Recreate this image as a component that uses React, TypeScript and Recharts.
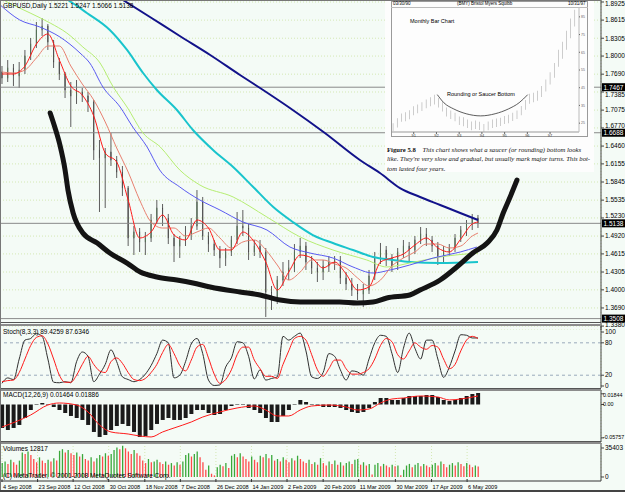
import React from "react";
import {
  ComposedChart,
  Bar,
  Line,
  XAxis,
  YAxis,
  CartesianGrid,
  ReferenceLine,
  Cell,
} from "recharts";

const FONT = '"Liberation Sans", Arial, sans-serif';
const SERIF = '"Liberation Serif", "DejaVu Serif", serif';
const BG = "#f4fbf6";
const GRID = "#d4e8b4";
const X_DOMAIN: [number, number] = [-0.35, 104.45];

// x axis labels (bar index where each label starts)
const dateTicks = [0, 6.2, 12.4, 18.6, 24.9, 31.1, 37.3, 43.5, 49.7, 56.0, 62.2, 68.6, 74.9, 81.1];
const dateLabels = [
  "4 Sep 2008", "23 Sep 2008", "12 Oct 2008", "30 Oct 2008", "18 Nov 2008", "7 Dec 2008",
  "26 Dec 2008", "14 Jan 2009", "2 Feb 2009", "20 Feb 2009", "11 Mar 2009", "30 Mar 2009",
  "17 Apr 2009", "6 May 2009",
];

const priceTicks = [
  1.8925, 1.8615, 1.8305, 1.8, 1.769, 1.7385, 1.7075, 1.677, 1.646, 1.6155, 1.5845, 1.5535,
  1.523, 1.492, 1.4615, 1.4305, 1.4, 1.369, 1.338,
];
// small shifts so axis labels clear the boxed price labels
const tickNudge: Record<string, number> = { "1.7385": 3, "1.6770": -2.5, "1.5230": -2.5, "1.3380": -1 };

// GBPUSD candles (two trading days per candle)
const open = [1.7727,1.7625,1.7796,1.7659,1.7761,1.8001,1.8206,1.8446,1.8514,1.8240,
1.7898,1.7693,1.7419,1.7317,1.7385,1.7317,1.7214,1.6393,1.6256,1.6358,
1.6222,1.6016,1.5743,1.4887,1.4990,1.4819,1.4887,1.5195,1.5400,1.5229,
1.4887,1.4750,1.4853,1.4955,1.5092,1.5503,1.4921,1.4784,1.4682,1.4545,
1.4648,1.4853,1.5092,1.5058,1.4648,1.4750,1.4648,1.3963,1.3826,1.4168,
1.4305,1.4374,1.4648,1.4750,1.4476,1.4374,1.4305,1.4408,1.4476,1.4511,
1.4203,1.4100,1.3997,1.3929,1.3997,1.4237,1.4545,1.4682,1.4545,1.4408,
1.4648,1.4750,1.4682,1.4853,1.4955,1.4853,1.4750,1.4579,1.4648,1.4716,
1.4887,1.5024,1.5127,1.5229];
const high = [1.7830,1.7932,1.7864,1.7898,1.8104,1.8309,1.8583,1.8651,1.8548,1.8275,
1.7967,1.7727,1.7556,1.7590,1.7453,1.7385,1.7248,1.6564,1.6427,1.6684,
1.6290,1.6119,1.5777,1.5092,1.5058,1.4990,1.5298,1.5537,1.5469,1.5298,
1.4955,1.4921,1.5092,1.5229,1.5708,1.5589,1.4990,1.4853,1.4750,1.4716,
1.4921,1.5332,1.5366,1.5127,1.4853,1.4853,1.4716,1.4066,1.4237,1.4476,
1.4511,1.4784,1.4887,1.4819,1.4579,1.4476,1.4511,1.4579,1.4579,1.4579,
1.4305,1.4203,1.4100,1.4100,1.4340,1.4648,1.4802,1.4750,1.4613,1.4716,
1.4853,1.4819,1.4921,1.5075,1.5058,1.4921,1.4819,1.4750,1.4784,1.4955,
1.5092,1.5195,1.5298,1.5281];
const low = [1.7522,1.7556,1.7488,1.7453,1.7693,1.7932,1.8138,1.8343,1.8104,1.7796,
1.7590,1.7282,1.6786,1.7180,1.7214,1.7043,1.6222,1.5332,1.5400,1.6119,
1.5914,1.5606,1.4750,1.4596,1.4648,1.4596,1.4819,1.5127,1.5092,1.4784,
1.4476,1.4545,1.4750,1.4853,1.5024,1.4853,1.4648,1.4579,1.4374,1.4408,
1.4579,1.4784,1.4921,1.4511,1.4579,1.4545,1.3535,1.3655,1.3758,1.4066,
1.4168,1.4305,1.4545,1.4340,1.4271,1.4134,1.4168,1.4305,1.4340,1.4100,
1.3997,1.3895,1.3826,1.3706,1.3929,1.4168,1.4442,1.4408,1.4305,1.4340,
1.4545,1.4476,1.4613,1.4784,1.4750,1.4648,1.4425,1.4476,1.4579,1.4648,
1.4819,1.4921,1.5024,1.5058];
const close = [1.7625,1.7796,1.7659,1.7761,1.8001,1.8206,1.8446,1.8514,1.8240,1.7898,
1.7693,1.7419,1.7317,1.7385,1.7317,1.7214,1.6393,1.6256,1.6358,1.6222,
1.6016,1.5743,1.4887,1.4990,1.4819,1.4887,1.5195,1.5400,1.5229,1.4887,
1.4750,1.4853,1.4955,1.5092,1.5503,1.4921,1.4784,1.4682,1.4545,1.4648,
1.4853,1.5092,1.5058,1.4648,1.4750,1.4648,1.3963,1.3826,1.4168,1.4305,
1.4374,1.4648,1.4750,1.4476,1.4374,1.4305,1.4408,1.4476,1.4511,1.4203,
1.4100,1.3997,1.3929,1.3997,1.4237,1.4545,1.4682,1.4545,1.4408,1.4648,
1.4750,1.4682,1.4853,1.4955,1.4853,1.4750,1.4579,1.4648,1.4716,1.4887,
1.5024,1.5127,1.5229,1.5138];

// moving averages, [bar index, price]
const maNavy = [[20.6,1.8990],[25.8,1.8668],[31.0,1.8343],[36.3,1.8018],[41.5,1.7676],[45.0,1.7453],
[50.2,1.7111],[56.3,1.6683],[62.4,1.6222],[65.9,1.5999],[69.4,1.5742],[72.9,1.5589],[76.4,1.5452],
[79.9,1.5315],[83.0,1.5195]];
const maCyan = [[10.8,1.9000],[11.5,1.8959],[14.8,1.8737],[18.8,1.8446],[21.8,1.8104],[24.6,1.7710],
[27.0,1.7419],[30.5,1.7077],[33.3,1.6735],[36.8,1.6393],[40.3,1.6102],[43.8,1.5760],[47.3,1.5417],
[50.7,1.5161],[54.2,1.4938],[57.7,1.4801],[61.2,1.4682],[64.7,1.4562],[68.2,1.4511],[71.1,1.4476],
[76.4,1.4459],[83.0,1.4476]];
const maLime = [[-0.3,1.8990],[0.9,1.8925],[4.9,1.8737],[8.4,1.8565],[11.3,1.8394],[14.1,1.8155],
[17.1,1.7881],[19.4,1.7470],[21.8,1.7128],[24.6,1.6683],[27.6,1.6444],[31.0,1.6050],[34.5,1.5794],
[40.3,1.5589],[46.2,1.5246],[52.0,1.4904],[57.7,1.4682],[63.6,1.4511],[67.1,1.4391],[71.1,1.4459],
[76.4,1.4562],[83.0,1.4630]];
const maBlue = [[-0.3,1.8873],[3.1,1.8617],[6.6,1.8497],[10.1,1.8326],[13.6,1.8052],[15.3,1.7881],
[17.6,1.7470],[20.6,1.7128],[22.8,1.6786],[25.3,1.6444],[27.5,1.6050],[31.0,1.5760],[34.5,1.5537],
[38.0,1.5366],[42.0,1.5161],[46.2,1.5024],[50.2,1.4733],[53.7,1.4630],[57.7,1.4545],[61.2,1.4391],
[64.7,1.4288],[67.7,1.4340],[71.1,1.4425],[75.2,1.4545],[79.9,1.4647],[82.8,1.4733]];
const maFast = [[0,1.7693],[2,1.7693],[4,1.7830],[6,1.8206],[8,1.8377],[10,1.7932],[12,1.7488],
[14,1.7334],[16,1.6974],[18,1.6341],[20,1.6187],[22,1.5537],[24,1.4887],[26,1.4990],[28,1.5281],
[30,1.4938],[32,1.4853],[34,1.5195],[36,1.5058],[38,1.4682],[40,1.4682],[42,1.4990],[44,1.4819],
[46,1.4476],[48,1.3997],[50,1.4305],[52,1.4596],[54,1.4545],[56,1.4374],[58,1.4476],[60,1.4271],
[62,1.3997],[64,1.4049],[66,1.4476],[68,1.4545],[70,1.4613],[72,1.4767],[74,1.4887],[76,1.4716],
[78,1.4648],[80,1.4870],[82,1.5127],[83,1.5161]];
const maSlow = [[0,1.7727],[2,1.7710],[4,1.7761],[6,1.7967],[8,1.8172],[10,1.8172],[12,1.7830],
[14,1.7522],[16,1.7248],[18,1.6872],[20,1.6427],[22,1.6016],[24,1.5537],[26,1.5161],[28,1.5058],
[30,1.5058],[32,1.4921],[34,1.4990],[36,1.5058],[38,1.4887],[40,1.4716],[42,1.4819],[44,1.4853],
[46,1.4682],[48,1.4425],[50,1.4168],[52,1.4305],[54,1.4511],[56,1.4511],[58,1.4442],[60,1.4374],
[62,1.4203],[64,1.4066],[66,1.4168],[68,1.4408],[70,1.4545],[72,1.4648],[74,1.4784],[76,1.4784],
[78,1.4716],[80,1.4750],[82,1.4921],[83,1.4972]];

// hand drawn saucer
const saucer = [[8.4,1.7026],[9.2,1.6786],[10.1,1.6478],[11.0,1.6050],[11.5,1.5708],[12.4,1.5315],
[14.1,1.4972],[16.6,1.4801],[18.8,1.4630],[21.8,1.4459],[24.1,1.4305],[27.0,1.4220],[30.5,1.4168],
[33.3,1.4117],[36.3,1.4049],[41.5,1.3963],[45.0,1.3912],[48.5,1.3826],[52.0,1.3792],[55.4,1.3792],
[58.9,1.3792],[61.9,1.3775],[64.7,1.3792],[67.1,1.3861],[71.1,1.3912],[72.9,1.3997],[76.4,1.4168],
[79.3,1.4391],[82.1,1.4630],[84.6,1.4801],[86.3,1.5024],[87.4,1.5315],[88.6,1.5589],[89.8,1.5879]];

const stochMain = [5,15,12,50,85,88,97,92,50,7,6,8,6,45,63,55,8,22,40,67,45,17,12,8,12,22,38,60,85,80,
15,20,45,78,88,60,11,1,2,35,52,82,80,55,13,30,11,14,17,92,85,92,98,65,17,14,25,60,55,30,
11,28,26,20,50,80,94,92,60,25,70,98,70,50,85,85,50,16,35,65,95,94,89,89];
const stochSignal = [8,10,11,25,50,75,90,93,78,50,20,7,7,20,40,55,40,28,25,45,52,42,25,12,10,14,25,40,62,77,
60,38,28,48,72,77,52,22,5,12,30,58,72,72,48,32,18,18,14,40,65,88,92,85,58,30,18,32,48,48,
32,22,22,25,32,50,75,88,82,58,50,65,80,72,68,75,72,50,32,40,65,85,92,88];

const macdMain = [-0.0405,-0.0440,-0.0405,-0.0353,-0.0233,-0.0095,-0.0009,0.0026,0.0009,-0.0043,
-0.0095,-0.0147,-0.0198,-0.0233,-0.0267,-0.0353,-0.0474,-0.0560,-0.0526,-0.0440,
-0.0371,-0.0336,-0.0371,-0.0474,-0.0560,-0.0543,-0.0440,-0.0336,-0.0267,-0.0233,
-0.0267,-0.0267,-0.0233,-0.0164,-0.0095,-0.0095,-0.0147,-0.0181,-0.0164,-0.0095,
-0.0026,0.0009,-0.0009,-0.0060,-0.0095,-0.0147,-0.0233,-0.0302,-0.0302,-0.0198,
-0.0095,0.0009,0.0078,0.0043,-0.0009,-0.0026,-0.0043,-0.0043,-0.0043,-0.0060,
-0.0095,-0.0129,-0.0147,-0.0129,-0.0060,0.0043,0.0112,0.0112,0.0078,0.0078,
0.0112,0.0147,0.0147,0.0147,0.0164,0.0164,0.0129,0.0078,0.0060,0.0078,
0.0112,0.0147,0.0181,0.0198];
const macdSignal = [[0,-0.0388],[5,-0.0181],[8,-0.0009],[10,0.0026],[13,-0.0009],[15,-0.0129],
[17,-0.0353],[19,-0.0474],[22,-0.0509],[24,-0.0543],[26,-0.0560],[28,-0.0474],[30,-0.0405],
[33,-0.0302],[35,-0.0216],[38,-0.0129],[41,-0.0060],[44,-0.0026],[46,-0.0095],[48,-0.0198],
[50,-0.0198],[52,-0.0095],[54,-0.0026],[57,-0.0009],[60,-0.0043],[62,-0.0095],[64,-0.0078],
[66,0.0026],[68,0.0095],[70,0.0112],[73,0.0147],[76,0.0129],[78,0.0078],[80,0.0095],[83,0.0147]];

// daily tick volumes
const volumes = [17000,19000,16000,21000,18000,15000,20000,30000,28000,31000,27000,
22000,18000,24000,20000,17000,21000,19000,23000,20000,32000,34000,30000,33000,29000,
27000,30000,25000,28000,22000,20000,24000,19000,23000,27000,25000,29000,26000,28000,
33000,36000,34000,38000,35000,31000,28000,33000,29000,26000,20000,17000,22000,18000,19000,
21000,18000,16000,19000,15000,17000,14000,18000,15000,19000,27000,29000,25000,28000,31000,24000,
18000,9000,14000,4000,2000,12000,15000,13000,17000,11000,26000,28000,24000,29000,25000,
22000,19000,25000,21000,18000,26000,24000,28000,23000,27000,20000,22000,19000,24000,21000,
18000,23000,20000,26000,22000,19000,17000,21000,16000,18000,15000,23000,17000,14000,19000,
16000,20000,15000,18000,14000,17000,19000,16000,21000,22000,15000,18000,14000,16000,3000,
15000,17000,13000,16000,14000,12000,15000,13000,14000,2000,9000,14000,16000,12000,15000,
17000,13000,16000,14000,12000,15000,17000,14000,19000,16000,12000,15000,17000,14000,18000,
16000,13000,17000,15000,12000,14000,12817];

// inset: BMY monthly bars
const bmyLow = [20.5,22.6,25.8,26.0,27.2,29.5,30.6,31.8,33.4,34.6,35.5,33.9,31.6,28.8,27.3,26.1,23.9,23.3,22.2,21.0,
21.7,21.1,20.2,21.0,22.3,22.8,23.4,24.5,25.0,26.2,27.4,29.4,32.6,36.0,36.8,37.6,39.8,42.9,46.8,50.6,
56.9,61.4,66.5,72.9,79.6];
const bmyHigh = [25.0,27.8,30.4,31.2,32.3,34.6,35.5,36.8,38.4,39.6,41.0,39.2,36.9,33.9,32.2,30.9,28.8,28.3,27.0,25.9,
26.5,25.8,24.5,25.9,27.0,27.6,28.1,29.1,29.8,30.9,32.1,34.7,38.1,41.6,42.1,43.3,45.9,49.6,53.8,58.9,
66.4,71.0,77.2,84.1,89.0];
const bmyArc = [[10.7,41.1],[12.3,36.5],[14.7,33.0],[17.7,30.3],[21.2,29.1],[24.7,30.3],[27.9,33.0],[30.5,36.5],[32.6,41.1]];
const bmyYears = ["91", "92", "93", "94", "95", "96", "97"];
const bmyYearTicks = [5, 10.5, 16, 21.5, 27, 32.5, 38];

const candleRows = open.map((o, i) => ({ x: i, o, h: high[i], l: low[i], c: close[i] }));
const pairs = (arr: number[][]) => arr.map(([x, v]) => ({ x, v }));
const stochRows = stochMain.map((k, i) => ({ x: i, k, d: stochSignal[i] }));
const macdRows = macdMain.map((m, i) => ({ x: i, m }));
const volRows = volumes.map((v, j) => ({ x: j * 0.5, v }));
const bmyRows = bmyLow.map((l, k) => ({ k, l, h: bmyHigh[k] }));

function Candle(props: any) {
  const { x, y, width, height, payload } = props;
  if (!payload || height == null) return null;
  const { o, h, l, c } = payload;
  const span = h - l || 1e-9;
  const top = y + ((h - Math.max(o, c)) / span) * height;
  const bot = y + ((h - Math.min(o, c)) / span) * height;
  const cx = x + width / 2;
  return (
    <g>
      <line x1={cx} x2={cx} y1={y} y2={y + height} stroke="#5e5e5e" strokeWidth={1} />
      <rect
        x={x}
        y={top}
        width={width}
        height={Math.max(1, bot - top)}
        fill={c >= o ? "#2f9a2f" : "#1c1c1c"}
        stroke="#5e5e5e"
        strokeWidth={0.5}
      />
    </g>
  );
}

function BoxLabel(props: any) {
  const { viewBox, text } = props;
  if (!viewBox) return null;
  const x = viewBox.x + viewBox.width + 1;
  const y = viewBox.y;
  return (
    <g>
      <rect x={x} y={y - 4} width={23} height={8} fill="#000" />
      <text x={x + 1.5} y={y + 2.3} fontSize={6.5} fill="#fff" fontFamily={FONT}>
        {text}
      </text>
    </g>
  );
}

// right axis tick, kept inside its panel
function SideTick(props: any) {
  const { x, y, payload, fmt, minY = 4, maxY = 9999, size = 6.5, dx = 0, nudge } = props;
  const label = fmt ? fmt(payload.value) : String(payload.value);
  const shift = nudge && nudge[label] ? nudge[label] : 0;
  const yy = Math.min(maxY, Math.max(minY, y + shift));
  return (
    <text x={x + dx} y={yy} dy="0.35em" fontSize={size} fill="#000" fontFamily={FONT} textAnchor="start">
      {label}
    </text>
  );
}

function DateTick(props: any) {
  const { x, y, payload } = props;
  const i = dateTicks.indexOf(payload.value);
  return (
    <g>
      <line x1={x} x2={x} y1={y - 2} y2={y + 1} stroke="#333" />
      <text x={x + 1} y={y + 7.5} fontSize={5.6} fontFamily={FONT} fill="#000">
        {dateLabels[i]}
      </text>
    </g>
  );
}

function hiddenX() {
  return (
    <XAxis
      type="number"
      dataKey="x"
      domain={X_DOMAIN}
      allowDataOverflow
      ticks={dateTicks}
      interval={0}
      height={0}
      tick={false}
      axisLine={false}
      tickLine={false}
    />
  );
}

const txt = (left: number, top: number, s: string, extra: any = {}) => (
  <div
    style={{
      position: "absolute",
      left,
      top,
      fontSize: 6.5,
      fontFamily: FONT,
      whiteSpace: "nowrap",
      color: "#000",
      lineHeight: 1,
      ...extra,
    }}
  >
    {s}
  </div>
);

const hline = (top: number, h: number, color: string, width = 601) => (
  <div style={{ position: "absolute", left: 0, top, width, height: h, background: color }} />
);

const sideAxis = { axisLine: { stroke: "#444" }, tickLine: { stroke: "#444" }, tickSize: 3, tickMargin: 1, interval: 0 as const };

export default function App() {
  return (
    <div
      style={{
        position: "absolute",
        left: 0,
        top: 0,
        width: 625,
        height: 492,
        background: BG,
        overflow: "hidden",
        fontFamily: FONT,
      }}
    >
      {/* price panel */}
      <div style={{ position: "absolute", left: 0, top: 0 }}>
        <ComposedChart width={625} height={330} data={candleRows} margin={{ top: 0, right: 0, left: 0, bottom: 0 }}>
          <CartesianGrid stroke={GRID} strokeDasharray="1 2" />
          {hiddenX()}
          <YAxis
            orientation="right"
            width={24}
            domain={[1.3313, 1.8959]}
            allowDataOverflow
            ticks={priceTicks}
            tick={<SideTick fmt={(v: number) => v.toFixed(4)} minY={4} nudge={tickNudge} />}
            {...sideAxis}
          />
          <ReferenceLine y={1.7467} stroke="#8a8a8a" label={<BoxLabel text="1.7467" />} />
          <ReferenceLine y={1.6688} stroke="#8a8a8a" label={<BoxLabel text="1.6688" />} />
          <ReferenceLine y={1.5138} stroke="#8a8a8a" label={<BoxLabel text="1.5138" />} />
          <ReferenceLine y={1.3508} stroke="#8a8a8a" label={<BoxLabel text="1.3508" />} />
          <Line data={pairs(maNavy)} dataKey="v" type="monotone" stroke="#12128a" strokeWidth={2} dot={false} isAnimationActive={false} />
          <Line data={pairs(maCyan)} dataKey="v" type="monotone" stroke="#19c4cc" strokeWidth={2} dot={false} isAnimationActive={false} />
          <Line data={pairs(maLime)} dataKey="v" type="monotone" stroke="#b6ee72" strokeWidth={1} dot={false} isAnimationActive={false} />
          <Line data={pairs(maBlue)} dataKey="v" type="monotone" stroke="#5a5af2" strokeWidth={1} dot={false} isAnimationActive={false} />
          <Bar dataKey={(d: any) => [d.l, d.h]} barSize={3} shape={<Candle />} isAnimationActive={false} />
          <Line data={pairs(maSlow)} dataKey="v" type="monotone" stroke="#e88070" strokeWidth={1} dot={false} isAnimationActive={false} />
          <Line data={pairs(maFast)} dataKey="v" type="monotone" stroke="#ff1a1a" strokeWidth={1} dot={false} isAnimationActive={false} />
          <Line data={pairs(saucer)} dataKey="v" type="monotone" stroke="#141414" strokeWidth={5} strokeLinecap="round" dot={false} isAnimationActive={false} />
        </ComposedChart>
      </div>
      {txt(3, 3, "GBPUSD,Daily  1.5221 1.5247 1.5066 1.5138")}

      {/* inset picture from the book */}
      <div style={{ position: "absolute", left: 385, top: 0, width: 209, height: 172, background: "#fdfdfd" }}>
        <div style={{ position: "absolute", left: 6, top: 1, width: 197, height: 136, border: "1px solid #9a9a9a", boxSizing: "border-box" }} />
        <div style={{ position: "absolute", left: 6, top: 7, width: 197, height: 1, background: "#bbb" }} />
        {txt(8, 2, "03/30/90", { fontSize: 4.5 })}
        {txt(72, 2, "(BMY) Bristol Myers Squibb", { fontSize: 4.5 })}
        {txt(183, 2, "10/31/97", { fontSize: 4.5 })}
        {txt(25, 19, "Monthly Bar Chart", { fontSize: 5.5 })}
        {txt(62, 92, "Rounding or Saucer Bottom", { fontSize: 5.5 })}
        <div style={{ position: "absolute", left: 6, top: 8 }}>
          <ComposedChart width={198} height={130} data={bmyRows} margin={{ top: 0, right: 0, left: 0, bottom: 0 }}>
            <XAxis
              type="number"
              dataKey="k"
              domain={[-0.5, 45]}
              allowDataOverflow
              ticks={bmyYearTicks}
              interval={0}
              height={6}
              tickFormatter={(v: number) => bmyYears[bmyYearTicks.indexOf(v)]}
              tick={{ fontSize: 4, fill: "#444" }}
              tickSize={2}
              tickMargin={0}
              axisLine={{ stroke: "#999" }}
            />
            <YAxis
              orientation="right"
              width={10}
              domain={[20, 90]}
              ticks={[25, 35, 45, 55, 65, 75, 85]}
              interval={0}
              tick={{ fontSize: 3.5, fill: "#666" }}
              tickSize={1}
              tickMargin={1}
              axisLine={{ stroke: "#bbb" }}
            />
            <Bar dataKey={(d: any) => [d.l, d.h]} barSize={1.6} fill="#7c7c7c" isAnimationActive={false} />
            <Line data={bmyArc.map(([k, v]) => ({ k, v }))} dataKey="v" type="monotone" stroke="#333" strokeWidth={0.8} dot={false} isAnimationActive={false} />
          </ComposedChart>
        </div>
        <div style={{ position: "absolute", left: 2, top: 145, fontFamily: SERIF, fontSize: 6.7, lineHeight: "9.3px", color: "#111", whiteSpace: "nowrap" }}>
          <div>
            <b>Figure 5.8</b>
            <i>&nbsp;&nbsp;&nbsp;&nbsp;This chart shows what a saucer (or rounding) bottom looks</i>
          </div>
          <div><i>like. They're very slow and gradual, but usually mark major turns. This bot-</i></div>
          <div><i>tom lasted four years.</i></div>
        </div>
      </div>

      {/* stochastic */}
      <div style={{ position: "absolute", left: 0, top: 325 }}>
        <ComposedChart width={625} height={63} data={stochRows} margin={{ top: 0, right: 0, left: 0, bottom: 0 }}>
          <CartesianGrid stroke={GRID} strokeDasharray="1 2" horizontal={false} />
          {hiddenX()}
          <YAxis
            orientation="right"
            width={24}
            domain={[-3.7, 113]}
            allowDataOverflow
            ticks={[0, 20, 80, 100]}
            tick={<SideTick />}
            {...sideAxis}
          />
          <ReferenceLine y={80} stroke="#9aaabb" strokeDasharray="3 3" />
          <ReferenceLine y={20} stroke="#9aaabb" strokeDasharray="3 3" />
          <Line dataKey="k" type="monotone" stroke="#303030" strokeWidth={1} dot={false} isAnimationActive={false} />
          <Line dataKey="d" type="monotone" stroke="#ff1a1a" strokeWidth={1} dot={false} isAnimationActive={false} />
        </ComposedChart>
      </div>
      {txt(3, 329, "Stoch(8,3,3) 89.4259 87.6346")}

      {/* MACD */}
      <div style={{ position: "absolute", left: 0, top: 390 }}>
        <ComposedChart width={625} height={52} data={macdRows} margin={{ top: 0, right: 0, left: 0, bottom: 0 }}>
          <CartesianGrid stroke={GRID} strokeDasharray="1 2" horizontal={false} />
          {hiddenX()}
          <YAxis
            orientation="right"
            width={24}
            domain={[-0.0647, 0.025]}
            allowDataOverflow
            ticks={[0.01844, 0, -0.05757]}
            tick={<SideTick size={5.4} dx={-2} minY={5} maxY={47} fmt={(v: number) => (v === 0 ? "0.00" : v.toFixed(5))} />}
            {...sideAxis}
          />
          <Bar dataKey="m" barSize={4} fill="#1a1a1a" isAnimationActive={false} />
          <Line data={pairs(macdSignal)} dataKey="v" type="monotone" stroke="#ff1a1a" strokeWidth={1} dot={false} isAnimationActive={false} />
        </ComposedChart>
      </div>
      {txt(3, 392, "MACD(12,26,9) 0.01464 0.01886")}

      {/* volumes */}
      <div style={{ position: "absolute", left: 0, top: 443 }}>
        <ComposedChart width={625} height={49} data={volRows} margin={{ top: 0, right: 0, left: 0, bottom: 0 }}>
          <CartesianGrid stroke={GRID} strokeDasharray="1 2" horizontal={false} />
          <XAxis
            type="number"
            dataKey="x"
            domain={X_DOMAIN}
            allowDataOverflow
            ticks={dateTicks}
            interval={0}
            height={11}
            tick={<DateTick />}
            tickSize={0}
            tickMargin={0}
            axisLine={{ stroke: "#333" }}
            tickLine={false}
          />
          <YAxis
            orientation="right"
            width={24}
            domain={[-4884, 41507]}
            allowDataOverflow
            ticks={[0, 35403]}
            tick={<SideTick minY={5} />}
            {...sideAxis}
          />
          <Bar dataKey="v" barSize={1.3} isAnimationActive={false}>
            {volRows.map((r, j) => (
              <Cell key={j} fill={j > 0 && r.v < volumes[j - 1] ? "#ff4a4a" : "#3aa83a"} />
            ))}
          </Bar>
        </ComposedChart>
      </div>
      {txt(3, 446, "Volumes 12817")}
      {txt(3, 473, "(C) MetaTrader, © 2001-2008 MetaQuotes Software Corp.")}

      {/* window frame */}
      {hline(0, 1, "#777")}
      {hline(322, 1, "#555")}
      {hline(324, 2, "#8c8c8c")}
      {hline(388, 1, "#555")}
      {hline(389, 2, "#8c8c8c")}
      {hline(441, 1, "#555")}
      {hline(442, 2, "#8c8c8c")}
      {hline(490, 2, "#444", 625)}
      <div style={{ position: "absolute", left: 0, top: 0, width: 1, height: 490, background: "#777" }} />
    </div>
  );
}
